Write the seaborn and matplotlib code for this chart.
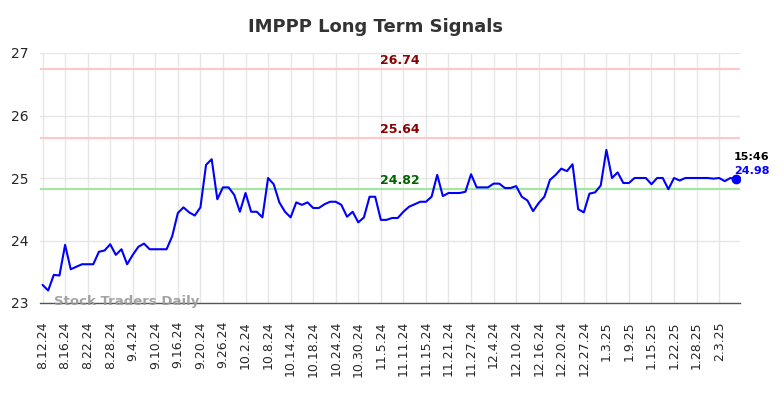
import matplotlib
matplotlib.use('Agg')
import matplotlib.pyplot as plt
import seaborn as sns
import pandas as pd

# closing prices, one per trading day (8.12.24 .. last session)
prices = [23.29, 23.20, 23.45, 23.44, 23.93, 23.54, 23.58, 23.62, 23.62, 23.62,
          23.82, 23.84, 23.94, 23.77, 23.86, 23.62, 23.77, 23.90, 23.95, 23.86,
          23.86, 23.86, 23.86, 24.07, 24.44, 24.53, 24.45, 24.40, 24.53, 25.21,
          25.30, 24.66, 24.85, 24.85, 24.73, 24.46, 24.76, 24.46, 24.46, 24.37,
          25.00, 24.90, 24.61, 24.46, 24.37, 24.61, 24.57, 24.61, 24.52, 24.52,
          24.58, 24.62, 24.62, 24.57, 24.38, 24.46, 24.29, 24.37, 24.70, 24.70,
          24.33, 24.33, 24.36, 24.36, 24.46, 24.54, 24.58, 24.62, 24.62, 24.70,
          25.05, 24.71, 24.76, 24.76, 24.76, 24.78, 25.06, 24.85, 24.85, 24.85,
          24.91, 24.91, 24.84, 24.84, 24.87, 24.70, 24.64, 24.47, 24.60, 24.70,
          24.97, 25.05, 25.15, 25.11, 25.22, 24.50, 24.45, 24.75, 24.77, 24.88,
          25.45, 25.00, 25.09, 24.92, 24.92, 25.00, 25.00, 25.00, 24.90, 25.00,
          25.00, 24.82, 25.00, 24.96, 25.00, 25.00, 25.00, 25.00, 25.00, 24.99,
          25.00, 24.95, 25.00, 24.98]

tick_labels = ['8.12.24', '8.16.24', '8.22.24', '8.28.24', '9.4.24', '9.10.24',
               '9.16.24', '9.20.24', '9.26.24', '10.2.24', '10.8.24', '10.14.24',
               '10.18.24', '10.24.24', '10.30.24', '11.5.24', '11.11.24', '11.15.24',
               '11.21.24', '11.27.24', '12.4.24', '12.10.24', '12.16.24', '12.20.24',
               '12.27.24', '1.3.25', '1.9.25', '1.15.25', '1.22.25', '1.28.25', '2.3.25']

resistance = [26.74, 25.64]
support = [24.82]
last_time = '15:46'

df = pd.DataFrame({'idx': range(len(prices)), 'price': prices})

sns.set_style('white')
fig = plt.figure(figsize=(7.84, 3.98), dpi=100)
ax = fig.add_axes([40 / 784, 95 / 398, 700 / 784, 250 / 398])

ax.grid(True, color='#e6e6e6', linewidth=1)
ax.set_axisbelow(True)

for lvl in resistance:
    ax.axhline(lvl, color='#ffc8c8', linewidth=1.5)
for lvl in support:
    ax.axhline(lvl, color='#a0e8a0', linewidth=1.5)

sns.lineplot(data=df, x='idx', y='price', color='blue', linewidth=1.5, ax=ax)

# last point marker
ax.plot(df['idx'].iloc[-1], df['price'].iloc[-1], 'o', color='blue', markersize=6)

mid = 63.3
for lvl in resistance:
    ax.text(mid, lvl + 0.03, f'{lvl:.2f}', color='#8b0000', fontsize=9,
            fontweight='bold', ha='center', va='bottom')
for lvl in support:
    ax.text(mid, lvl + 0.03, f'{lvl:.2f}', color='#006400', fontsize=9,
            fontweight='bold', ha='center', va='bottom')

last_x = df['idx'].iloc[-1]
last_y = df['price'].iloc[-1]
ax.text(last_x + 2.8, last_y + 0.35, last_time, color='black', fontsize=8,
        fontweight='bold', ha='center', va='center', clip_on=False)
ax.text(last_x + 2.8, last_y + 0.13, f'{last_y:.2f}', color='blue', fontsize=8,
        fontweight='bold', ha='center', va='center', clip_on=False)

ax.text(2.1, 23.02, 'Stock Traders Daily', color='#999999', fontsize=9.5,
        fontweight='bold', ha='left', va='center', alpha=0.9)

ax.set_xlim(-0.45, 123.7)
ax.set_ylim(23, 27)
ax.set_xticks(range(0, len(tick_labels) * 4, 4))
ax.set_xticklabels(tick_labels, rotation=90, fontsize=9)
ax.set_yticks([23, 24, 25, 26, 27])
ax.tick_params(axis='x', length=0, pad=13)
ax.tick_params(axis='y', length=0, pad=8, labelsize=10)
ax.set_xlabel('')
ax.set_ylabel('')

for s in ['top', 'right', 'left']:
    ax.spines[s].set_visible(False)
ax.spines['bottom'].set_color('#555555')
ax.spines['bottom'].set_linewidth(1)

fig.text(375 / 784, 1 - 27 / 398, 'IMPPP Long Term Signals', fontsize=13,
         fontweight='bold', color='#333333', ha='center', va='center')

fig.savefig('out.png', dpi=100)
